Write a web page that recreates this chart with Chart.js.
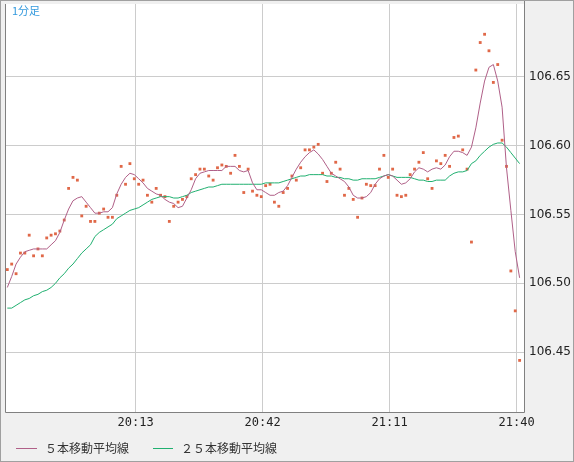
<!DOCTYPE html>
<html>
<head>
<meta charset="utf-8">
<script src="https://cdn.jsdelivr.net/npm/chart.js@4/dist/chart.umd.min.js"></script>
<style>
html, body { margin: 0; padding: 0; background: #f0f0f0; }
#wrap { width: 574px; height: 462px; }
</style>
</head>
<body>
<div id="wrap"><canvas id="myChart" width="574" height="462"></canvas></div>
<script>
// minute index 0 = 19:44
var tickLabels = ['20:13', '20:42', '21:11', '21:40']
var tickPos = [29.3, 58.3, 87.3, 116.3]
var yTicks = [106.45, 106.50, 106.55, 106.60, 106.65]

// 1分足 close prices
var prices = [
  106.510, 106.514, 106.507, 106.522, 106.522, 106.535, 106.520, 106.525, 106.520, 106.533,
  106.535, 106.536, 106.538, 106.546, 106.569, 106.577, 106.575, 106.549, 106.556, 106.545,
  106.545, 106.551, 106.554, 106.548, 106.548, 106.564, 106.585, 106.572, 106.587, 106.576,
  106.572, 106.575, 106.564, 106.559, 106.569, 106.564, 106.563, 106.545, 106.556, 106.559,
  106.561, 106.563, 106.576, 106.579, 106.583, 106.583, 106.578, 106.575, 106.584, 106.586,
  106.585, 106.580, 106.593, 106.585, 106.566, 106.583, 106.567, 106.564, 106.563, 106.571,
  106.572, 106.559, 106.556, 106.566, 106.569, 106.578, 106.575, 106.584, 106.597, 106.597,
  106.599, 106.601, 106.580, 106.574, 106.580, 106.588, 106.583, 106.564, 106.569, 106.561,
  106.548, 106.562, 106.572, 106.571, 106.571, 106.583, 106.593, 106.577, 106.583, 106.564,
  106.563, 106.564, 106.579, 106.583, 106.588, 106.595, 106.576, 106.569, 106.589, 106.587,
  106.593, 106.585, 106.606, 106.607, 106.597, 106.583, 106.530, 106.655, 106.675, 106.681,
  106.669, 106.646, 106.659, 106.604, 106.585, 106.509, 106.480, 106.444
]

// ５本移動平均線
var ma5 = [
  106.497, 106.505, 106.514, 106.519, 106.523, 106.524, 106.525, 106.525, 106.525, 106.525,
  106.528, 106.531, 106.537, 106.546, 106.554, 106.560, 106.562, 106.563, 106.559, 106.555,
  106.551, 106.551, 106.552, 106.552, 106.555, 106.565, 106.572, 106.577, 106.580, 106.579,
  106.576, 106.573, 106.569, 106.567, 106.565, 106.564, 106.561, 106.559, 106.558, 106.555,
  106.556, 106.562, 106.568, 106.576, 106.580, 106.581, 106.582, 106.582, 106.582, 106.582,
  106.585, 106.585, 106.585, 106.582, 106.581, 106.582, 106.573, 106.568, 106.568, 106.566,
  106.564, 106.564, 106.566, 106.567, 106.571, 106.577, 106.583, 106.588, 106.592, 106.595,
  106.597, 106.594, 106.590, 106.585, 106.580, 106.578, 106.576, 106.574, 106.570, 106.564,
  106.562, 106.562, 106.563, 106.566, 106.572, 106.576, 106.578, 106.579, 106.578, 106.575,
  106.572, 106.573, 106.576, 106.581, 106.584, 106.583, 106.581, 106.583, 106.584, 106.583,
  106.586, 106.592, 106.596, 106.596, 106.595, 106.593, 106.599, 106.613, 106.631, 106.647,
  106.657, 106.659, 106.647, 106.628, 106.584, 106.553, 106.523, 106.504
]

// ２５本移動平均線
var ma25 = [
  106.482, 106.482, 106.484, 106.486, 106.488, 106.489, 106.491, 106.492, 106.494, 106.495,
  106.497, 106.500, 106.504, 106.507, 106.511, 106.514, 106.518, 106.522, 106.525, 106.528,
  106.534, 106.537, 106.539, 106.541, 106.543, 106.547, 106.549, 106.551, 106.553, 106.554,
  106.555, 106.557, 106.559, 106.561, 106.562, 106.563, 106.563, 106.563, 106.562, 106.562,
  106.563, 106.564, 106.566, 106.567, 106.568, 106.569, 106.570, 106.570, 106.571, 106.572,
  106.572, 106.572, 106.572, 106.572, 106.572, 106.572, 106.572, 106.572, 106.572, 106.573,
  106.573, 106.573, 106.573, 106.574, 106.575, 106.576, 106.577, 106.578, 106.578, 106.579,
  106.579, 106.579, 106.579, 106.578, 106.578, 106.577, 106.577, 106.576, 106.576, 106.575,
  106.575, 106.576, 106.576, 106.576, 106.576, 106.577, 106.578, 106.579, 106.578, 106.577,
  106.577, 106.577, 106.577, 106.576, 106.575, 106.575, 106.574, 106.574, 106.575, 106.575,
  106.575, 106.578, 106.580, 106.581, 106.581, 106.582, 106.587, 106.589, 106.593, 106.596,
  106.599, 106.601, 106.602, 106.602, 106.599, 106.595, 106.591, 106.587
]

function pts(arr) {
  return arr.map(function (v, i) { return { x: i, y: v } })
}

var frame = {
  id: 'frame',
  beforeDraw: function (chart) {
    var c = chart.ctx, a = chart.chartArea
    c.save()
    c.fillStyle = '#f0f0f0'
    c.fillRect(0, 0, chart.width, chart.height)
    c.fillStyle = '#ffffff'
    c.fillRect(a.left, a.top, a.right - a.left, a.bottom - a.top)
    c.restore()
  },
  afterDraw: function (chart) {
    var c = chart.ctx, a = chart.chartArea
    c.save()
    c.strokeStyle = '#808080'
    c.lineWidth = 1
    c.beginPath()
    c.moveTo(a.left - 0.5, a.top)
    c.lineTo(a.left - 0.5, a.bottom + 0.5)
    c.lineTo(a.right + 0.5, a.bottom + 0.5)
    c.lineTo(a.right + 0.5, 0)
    c.stroke()
    // outer frame
    c.strokeStyle = '#a0a0a0'
    c.strokeRect(0.5, 0.5, chart.width - 1, chart.height - 1)
    c.font = '11px "Noto Sans CJK JP"'
    c.fillStyle = '#3399dd'
    c.textBaseline = 'middle'
    c.fillText('1分足', a.left + 6, 11)
    // legend
    c.font = '12px "Noto Sans CJK JP"'
    c.fillStyle = '#333333'
    c.lineWidth = 1
    c.strokeStyle = '#b06088'
    c.beginPath(); c.moveTo(16, 448.5); c.lineTo(37, 448.5); c.stroke()
    c.fillText('５本移動平均線', 45, 448)
    c.strokeStyle = '#20b070'
    c.beginPath(); c.moveTo(153, 448.5); c.lineTo(173, 448.5); c.stroke()
    c.fillText('２５本移動平均線', 181, 448)
    c.restore()
  }
}

new Chart(document.getElementById('myChart'), {
  type: 'line',
  data: {
    datasets: [
      { label: '５本移動平均線', data: pts(ma5), borderColor: '#b06088', borderWidth: 1, pointRadius: 0, tension: 0 },
      { label: '２５本移動平均線', data: pts(ma25), borderColor: '#20b070', borderWidth: 1, pointRadius: 0, tension: 0 },
      { label: '1分足', data: pts(prices), showLine: false, pointStyle: 'rect', pointRadius: 2,
        backgroundColor: '#e06848', borderColor: '#e06848', borderWidth: 0 }
    ]
  },
  plugins: [frame],
  options: {
    responsive: false,
    animation: false,
    layout: { padding: { left: 6, top: 2, right: 0, bottom: 0 } },
    plugins: { legend: { display: false }, tooltip: { enabled: false } },
    scales: {
      x: {
        type: 'linear', min: -0.3, max: 118,
        afterBuildTicks: function (s) { s.ticks = tickPos.map(function (v) { return { value: v } }) },
        afterFit: function (s) { s.height = 50; s.paddingLeft = 0; s.paddingRight = 0 },
        ticks: {
          autoSkip: false, maxRotation: 0, padding: 4,
          color: '#222', font: { family: 'DejaVu Sans Mono', size: 12 },
          callback: function (v, i) { return tickLabels[i] }
        },
        grid: { color: '#cccccc', drawTicks: false },
        border: { display: false }
      },
      y: {
        position: 'right', min: 106.4065, max: 106.703,
        afterBuildTicks: function (s) { s.ticks = yTicks.map(function (v) { return { value: v } }) },
        afterFit: function (s) { s.width = 50; s.paddingTop = 0; s.paddingBottom = 0 },
        ticks: {
          padding: 5, color: '#222', font: { family: 'DejaVu Sans', size: 12 },
          callback: function (v) { return v.toFixed(2) }
        },
        grid: { color: '#cccccc', drawTicks: false },
        border: { display: false }
      }
    }
  }
});
</script>
</body>
</html>
